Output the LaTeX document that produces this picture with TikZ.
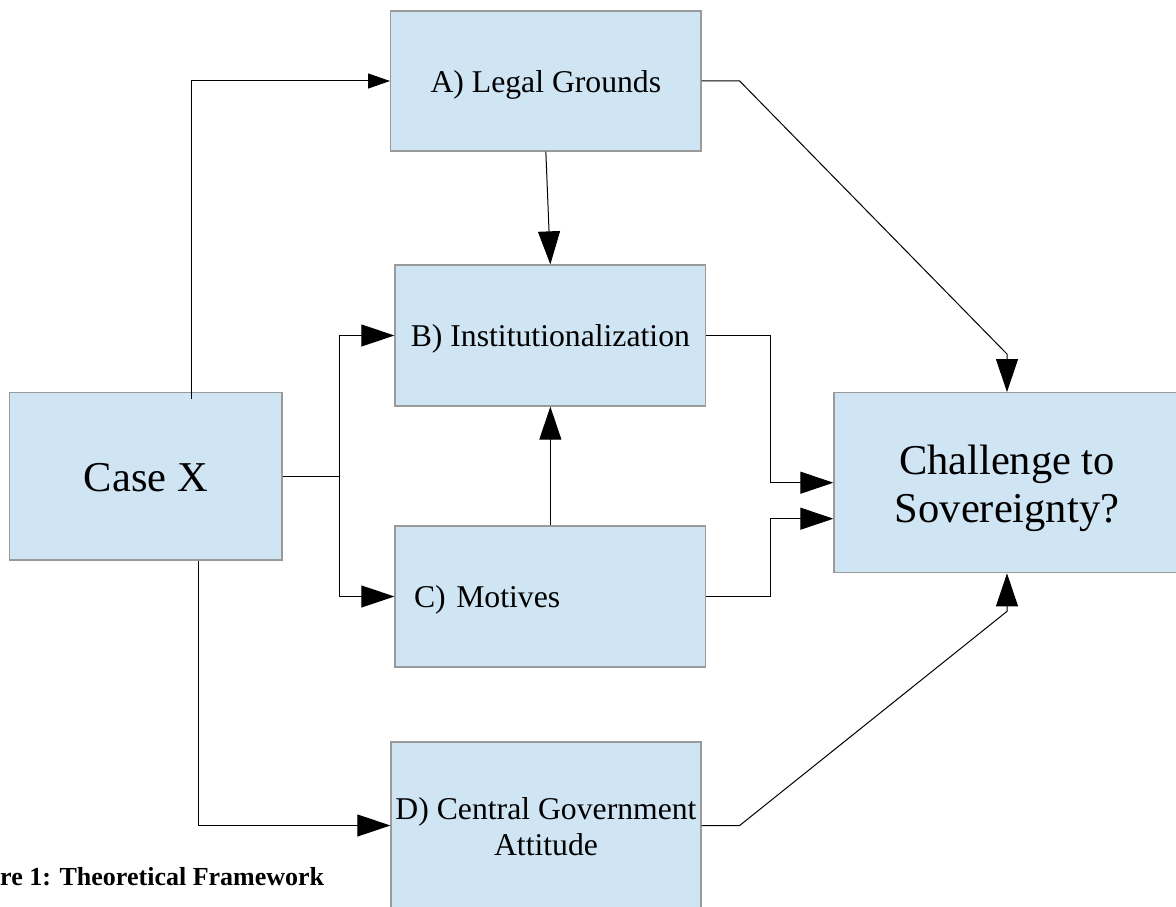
\documentclass[tikz,border=0pt]{standalone}
\usepackage{fontspec}
\setmainfont{Liberation Serif}
\usetikzlibrary{arrows.meta,calc}
\definecolor{boxfill}{HTML}{CFE5F3}
\definecolor{boxline}{HTML}{9A9A9A}
% lower a line of text without changing the size of its box
\newcommand\lowerby[2]{\raisebox{-#1}[\height][\depth]{#2}}
\begin{document}
\begin{tikzpicture}[x=1pt,y=-1pt,
  box/.style={draw=boxline, line width=1.3pt, fill=boxfill, inner sep=0pt,
    align=center, font=\fontsize{31.7}{36}\selectfont},
  bigbox/.style={box, font=\fontsize{42.5}{48}\selectfont},
  link/.style={draw=black, line width=1pt},
  arr/.style={link, -{Triangle[length=33pt,width=22pt]}},
  arrsmall/.style={link, -{Triangle[length=22pt,width=15pt]}}]
\path[use as bounding box, clip] (0,0) rectangle (1176,907);

% factor boxes
\node[box, minimum width=310.3pt, minimum height=140pt] (legal) at (545.85,81) {\lowerby{3.5pt}{A) Legal Grounds}};
\node[box, minimum width=310.7pt, minimum height=141pt] (inst) at (550.35,335.5) {\lowerby{3pt}{B) Institutionalization}};
\node[box, align=left, text width=272.7pt, inner xsep=19pt, minimum height=141pt] (motives) at (550.35,596.5) {\lowerby{3pt}{C) Motives}};
\node[box, minimum width=310pt, minimum height=167pt] (gov) at (546,825.5) {\lowerby{1pt}{D) Central Government}\\\lowerby{1pt}{Attitude}};

% case and outcome
\node[bigbox, minimum width=272.5pt, minimum height=167.4pt] (casex) at (145.75,476.3) {\lowerby{1.5pt}{Case X}};
\node[bigbox, minimum width=346pt, minimum height=180pt] (chal) at (1007,482.7) {\lowerby{5.5pt}{Challenge to}\\\lowerby{5.5pt}{Sovereignty?}};

% caption
\node[anchor=base west, inner sep=0pt, font=\fontsize{26}{30}\selectfont\bfseries] (cap) at (0,885) {re 1: Theoretical Framework};

% connectors from the case
\draw[arrsmall] ([xshift=45.25pt,yshift=-7pt]casex.north) |- (legal.west);
\draw[arr] (casex.east) -- ++(57,0) |- (inst.west);
\draw[arr] (casex.east) -- ++(57,0) |- (motives.west);
\draw[arr] ([xshift=52.75pt]casex.south) |- (gov.west);

% links between factors
\draw[arr] (legal.south) -- (inst.north);
\draw[arr] (motives.north) -- (inst.south);

% links to the outcome
\draw[arr] (legal.east) -- ++(38,0) -- ([yshift=38pt]chal.north) -- (chal.north);
\draw[arr] (inst.east) -- ++(64,0) |- (chal.west);
\draw[arr] (motives.east) -- ++(64,0) |- ([yshift=-36pt]chal.west);
\draw[arr] (gov.east) -- ++(38,0) -- ([yshift=-38pt]chal.south) -- (chal.south);
\end{tikzpicture}
\end{document}
